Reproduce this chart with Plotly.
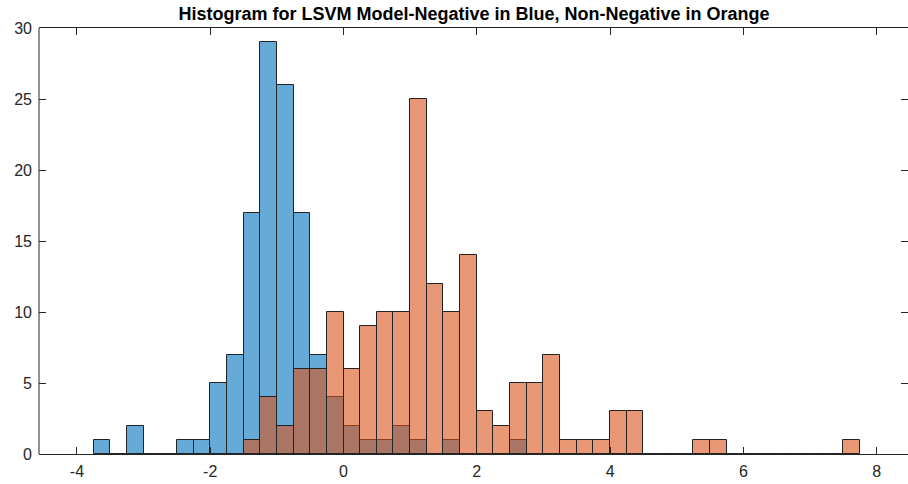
import plotly.graph_objects as go

# ---- data (histogram counts, bin width 0.25) ----
BIN_WIDTH = 0.25
neg_first_edge = -3.75
neg_counts = [1, 0, 2, 0, 0, 1, 1, 5, 7, 17, 29, 26, 17, 7, 4, 2, 1, 1, 2, 1, 0, 1, 0, 0, 0, 1]
nonneg_first_edge = -1.5
nonneg_counts = [1, 4, 2, 6, 6, 10, 6, 9, 10, 10, 25, 12, 10, 14, 3, 2, 5, 5, 7, 1, 1, 1, 3, 3,
                 0, 0, 0, 1, 1, 0, 0, 0, 0, 0, 0, 0, 1]
x_ticks = [-4, -2, 0, 2, 4, 6, 8]
y_ticks = [0, 5, 10, 15, 20, 25, 30]
title_text = "Histogram for LSVM Model-Negative in Blue, Non-Negative in Orange"


def centers(first_edge, counts):
    return [first_edge + BIN_WIDTH * (i + 0.5) for i in range(len(counts))]


edge = "rgb(35,35,35)"
fig = go.Figure()
fig.add_trace(go.Bar(
    x=centers(neg_first_edge, neg_counts), y=neg_counts, width=BIN_WIDTH,
    marker=dict(color="rgba(0,114,189,0.6)", line=dict(color=edge, width=1)),
    name="Negative"))
fig.add_trace(go.Bar(
    x=centers(nonneg_first_edge, nonneg_counts), y=nonneg_counts, width=BIN_WIDTH,
    marker=dict(color="rgba(217,83,25,0.6)", line=dict(color=edge, width=1)),
    name="Non-Negative"))

axis_col = "rgb(38,38,38)"
font_fam = "Liberation Sans, Arial, sans-serif"
fig.update_layout(
    width=908, height=484,
    margin=dict(l=39, r=0, t=28, b=30),
    barmode="overlay", bargap=0,
    showlegend=False,
    paper_bgcolor="white", plot_bgcolor="white",
    font=dict(family=font_fam, size=16, color=axis_col),
    title=dict(text="<b>" + title_text + "</b>", x=474 / 908, xanchor="center",
               y=1 - 14 / 484, yanchor="middle",
               font=dict(family=font_fam, size=18, color="black")),
    shapes=[dict(type="line", xref="paper", yref="paper", x0=0, x1=0, y0=0, y1=1,
                 line=dict(color=axis_col, width=1), layer="above")],
)
fig.update_xaxes(
    range=[-4.569, 8.47], tickvals=x_ticks, ticktext=[str(v) for v in x_ticks],
    showgrid=False, zeroline=False,
    showline=True, linecolor=axis_col, linewidth=1, mirror="ticks",
    ticks="inside", ticklen=7, tickcolor=axis_col, tickwidth=1,
    tickfont=dict(size=16, color=axis_col), ticklabelstandoff=3,
)
fig.update_yaxes(
    range=[0, 30], tickvals=y_ticks, ticktext=[str(v) for v in y_ticks],
    showgrid=False, zeroline=False,
    showline=False, mirror="ticks",
    ticks="inside", ticklen=7, tickcolor=axis_col, tickwidth=1,
    tickfont=dict(size=16, color=axis_col), ticklabelstandoff=6,
)

fig.write_html("out.html")
